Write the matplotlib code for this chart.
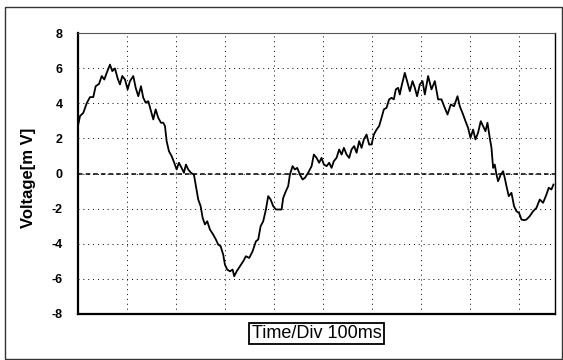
import matplotlib
matplotlib.use("Agg")
import matplotlib.pyplot as plt
from matplotlib.patches import Rectangle
import numpy as np

# waveform (time in ms, voltage in mV)
time_ms = [0.6, 4.1, 10.8, 17.8, 24.5, 31.2, 36.1, 42.9, 48.4, 53.7, 58.6, 65.3,
           70.0, 75.5, 81.0, 85.7, 90.4, 95.9, 101.4, 106.1, 112.9, 117.8, 123.1,
           128.6, 133.3, 138.2, 143.5, 149.0, 153.7, 158.6, 163.9, 169.4, 174.1,
           177.6, 181.0, 185.7, 191.2, 196.5, 201.4, 206.1, 211.6, 216.3, 220.4,
           225.1, 230.6, 236.7, 240.8, 245.5, 250.4, 254.5, 259.2, 263.9, 269.4,
           276.1, 281.6, 286.3, 291.2, 296.5, 300.0, 304.7, 310.2, 315.7, 319.0,
           323.9, 330.6, 337.3, 342.9, 349.6, 356.5, 363.3, 368.0, 372.9, 378.2,
           383.7, 388.4, 393.3, 398.6, 404.1, 410.8, 415.7, 419.0, 424.5, 429.2,
           432.7, 438.2, 442.9, 447.6, 453.1, 458.6, 463.3, 470.0, 477.0, 481.6,
           487.1, 492.4, 497.3, 502.0, 507.6, 512.9, 517.8, 522.4, 527.9, 533.3,
           538.2, 542.9, 548.4, 553.7, 558.6, 563.9, 568.8, 574.1, 579.0, 583.7,
           589.2, 594.5, 599.4, 604.1, 609.6, 614.9, 619.8, 624.5, 630.0, 635.3,
           640.2, 644.9, 649.0, 653.7, 657.1, 660.6, 667.3, 672.0, 677.6, 683.1,
           687.8, 692.4, 698.0, 703.5, 708.2, 714.9, 721.8, 728.6, 735.3, 742.2,
           747.6, 754.5, 761.2, 767.9, 774.9, 779.6, 786.3, 791.2, 796.5, 801.4,
           806.7, 811.6, 816.9, 822.4, 827.1, 832.0, 836.1, 840.8, 844.3, 847.6,
           851.0, 854.5, 857.8, 863.3, 868.0, 871.4, 874.9, 879.6, 885.1, 890.4,
           895.3, 900.6, 905.5, 910.8, 915.7, 922.4, 929.2, 936.1, 942.9, 949.6,
           956.5, 961.2, 966.7, 970.8]
voltage_mv = [2.8, 3.27, 3.45, 4.0, 4.35, 4.35, 4.97, 5.1, 5.55, 5.35, 5.73, 6.2,
              5.83, 5.98, 5.41, 5.07, 5.55, 5.35, 4.79, 5.26, 5.55, 4.88, 4.4,
              4.97, 4.31, 4.03, 4.12, 3.55, 3.08, 3.65, 3.17, 2.89, 2.89,
              2.7, 1.84, 1.27, 0.99, 0.61, 0.23, 0.61, 0.32, 0.04, 0.51,
              0.23, 0.04, -0.06, -0.72, -1.48, -1.86, -2.52, -2.9, -2.72, -3.19,
              -3.48, -3.76, -4.05, -4.14, -4.62, -5.19, -5.47, -5.57, -5.47, -5.85,
              -5.57, -5.28, -5.0, -4.71, -4.81, -4.43, -3.86, -3.76, -3.0, -2.72,
              -2.05, -1.29, -1.48, -1.86, -2.05, -2.05, -2.05, -1.39, -1.0, -0.72,
              -0.06, 0.42, 0.23, 0.32, -0.06, -0.34, -0.25, 0.04, 0.42, 1.08,
              0.89, 0.61, 0.89, 0.51, 0.42, 0.61, 0.32, 0.7, 0.89, 1.37,
              1.08, 1.46, 1.08, 0.89, 1.37, 1.56, 1.18, 1.84, 1.46, 1.94,
              2.22, 1.65, 1.65, 2.22, 2.5, 2.7, 3.17, 3.65, 3.74, 4.22,
              4.31, 4.22, 4.79, 4.88, 4.5, 4.97, 5.73, 5.26, 4.69, 5.26,
              4.88, 4.4, 5.07, 5.26, 4.5, 5.55, 4.79, 5.26, 4.22, 4.22,
              3.83, 3.36, 3.93, 3.83, 4.4, 3.83, 3.36, 2.98, 2.6, 2.03,
              2.5, 1.94, 2.32, 2.98, 2.7, 2.41, 2.89, 2.03, 1.46, 0.32,
              0.51, -0.06, -0.44, -0.06, 0.13, -0.25, -0.72, -1.29, -1.1, -1.86,
              -2.15, -2.24, -2.62, -2.66, -2.62, -2.43, -2.15, -1.96, -1.48, -1.67,
              -1.2, -0.81, -0.91, -0.63]

y_ticks = [-8, -6, -4, -2, 0, 2, 4, 6, 8]
x_grid = [100, 200, 300, 400, 500, 600, 700, 800, 900]

plt.rcParams['font.family'] = ['Liberation Sans', 'DejaVu Sans']
plt.rcParams['axes.unicode_minus'] = False

fig = plt.figure(figsize=(5.63, 3.6), dpi=100)
ax = fig.add_axes([78 / 563, 46 / 360, 477 / 563, 281 / 360])

ax.plot(time_ms, voltage_mv, color='black', lw=1.3)

ax.set_xlim(0, 974)
ax.set_ylim(-8, 8)
ax.set_yticks(y_ticks)
ax.set_xticks(x_grid)
ax.set_xticklabels([])
ax.tick_params(length=0)
ax.tick_params(axis='y', pad=11, labelsize=9)
for lab in ax.get_yticklabels():
    lab.set_fontweight('bold')

# dotted grid, dashed zero line
ax.grid(True, color='black', lw=0.7, linestyle=(0, (1, 4)))
ax.axhline(0, color='black', lw=1.1, linestyle=(0, (3, 2)))

ax.spines['left'].set_linewidth(1.6)
ax.spines['bottom'].set_linewidth(1.6)
ax.spines['right'].set_linewidth(1.0)
ax.spines['top'].set_linewidth(0.8)
ax.spines['top'].set_linestyle((0, (1, 1)))
ax.spines['top'].set_color('#555555')

fig.text(29 / 563, 1 - 178 / 360, 'Voltage[m V]', rotation=90, fontsize=12,
         fontweight='bold', ha='center', va='center')
fig.text(316.5 / 563, 1 - 333.5 / 360, 'Time/Div 100ms', fontsize=13,
         ha='center', va='center',
         bbox=dict(boxstyle='square,pad=0.12', fc='white', ec='black', lw=1.3))

# outer frame of the figure
fig.patches.append(Rectangle((5 / 563, 1 / 360), 557 / 563, 352 / 360,
                             transform=fig.transFigure, fill=False,
                             ec='#333333', lw=1.0))

fig.savefig('out.png', dpi=100)
